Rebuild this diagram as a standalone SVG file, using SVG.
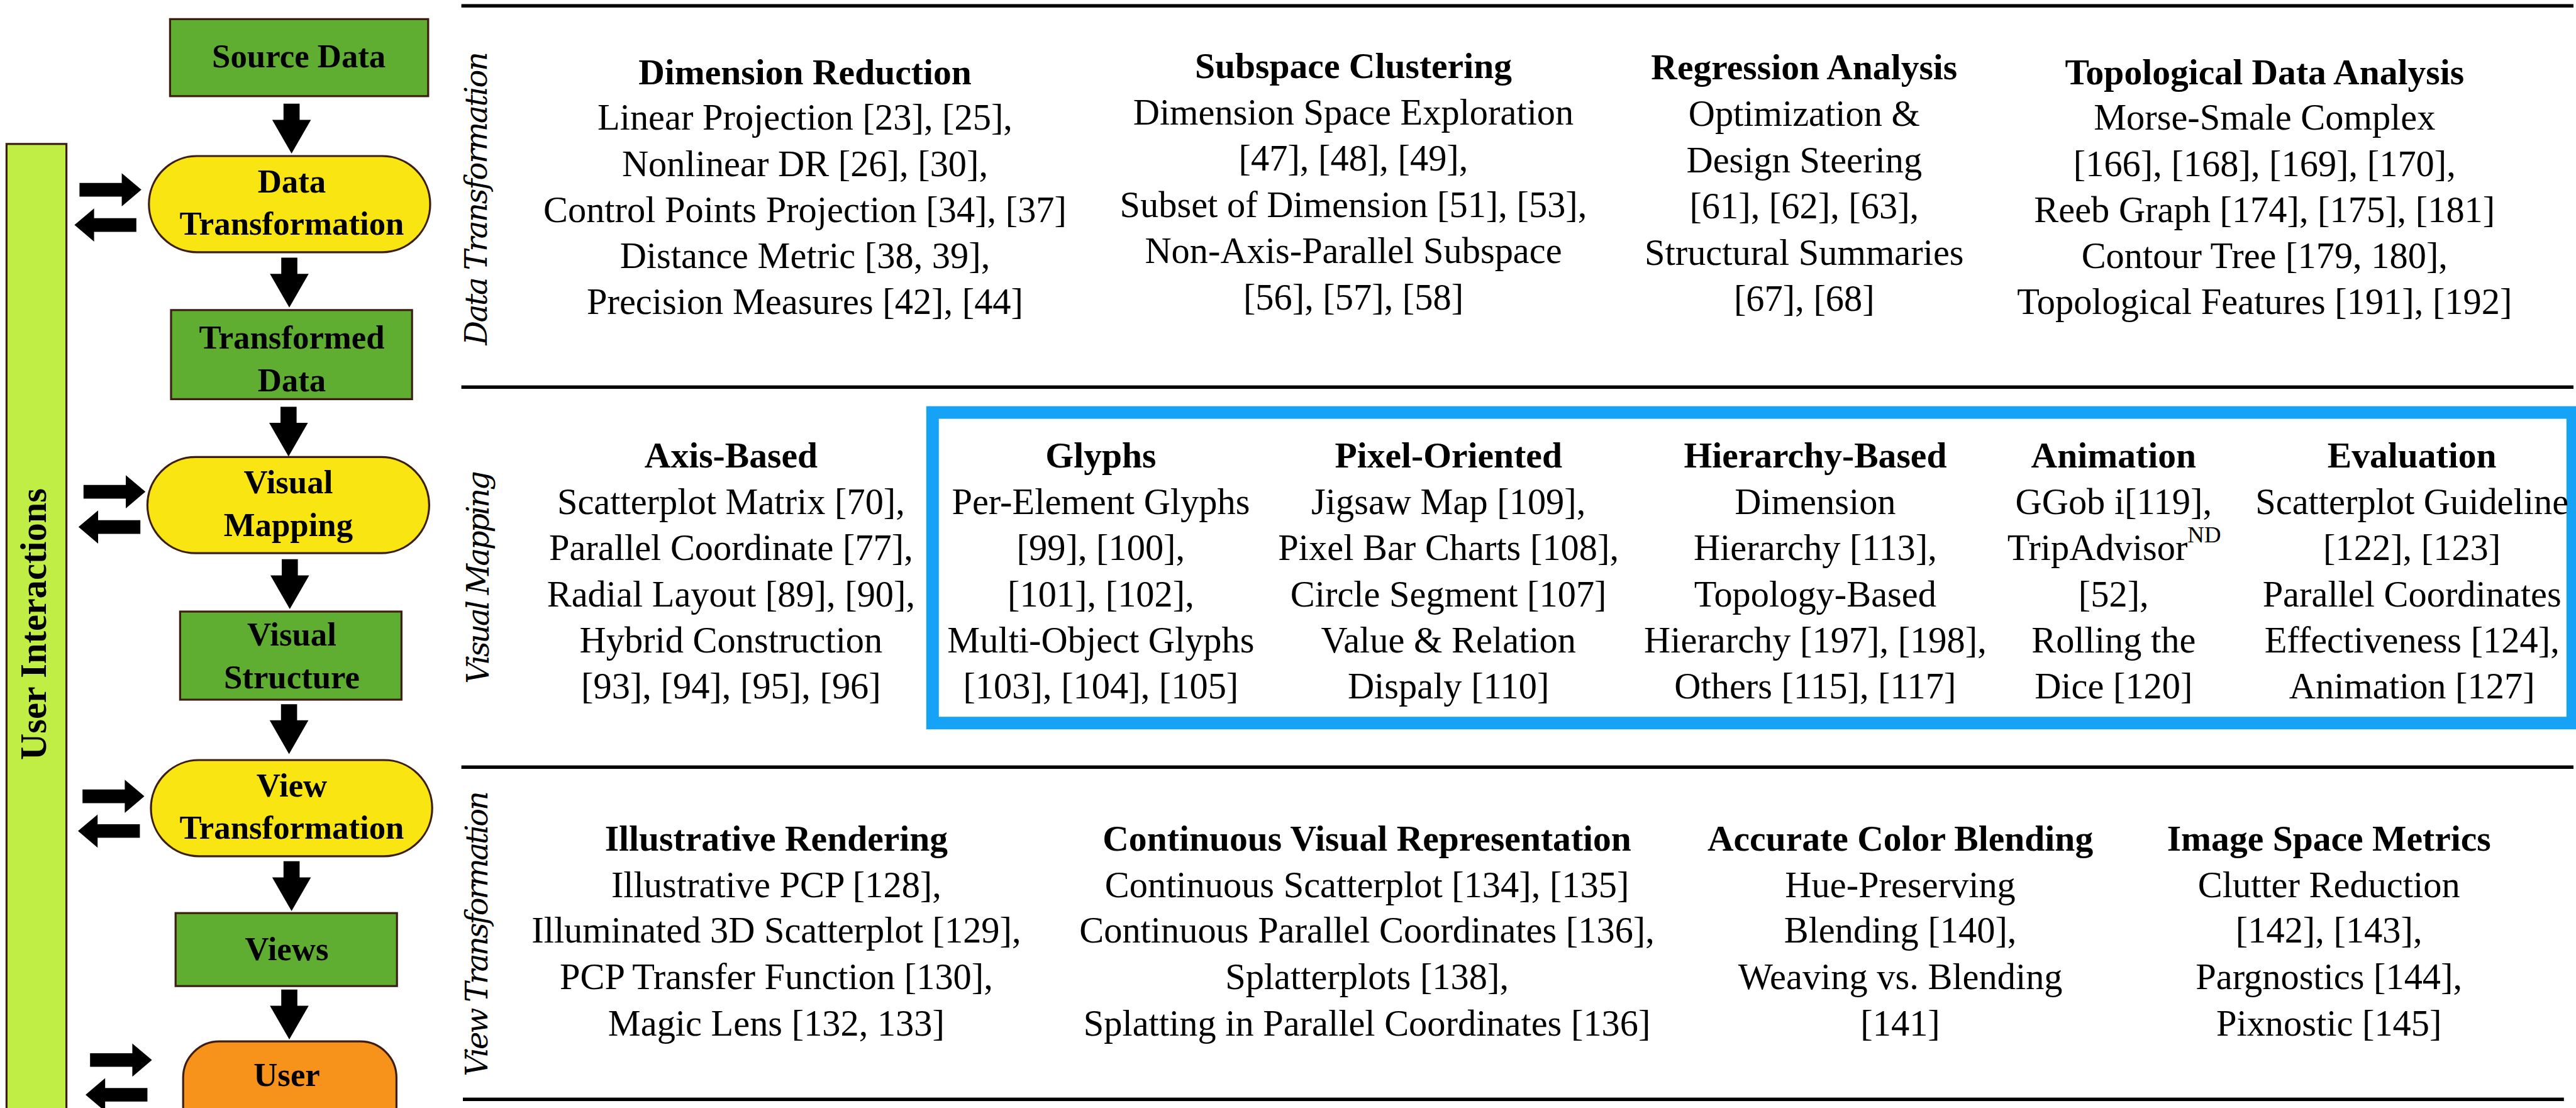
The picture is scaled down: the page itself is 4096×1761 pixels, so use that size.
<svg xmlns="http://www.w3.org/2000/svg" width="4096" height="1761" viewBox="0 0 4096 1761">
<style>
.t{font-family:"Liberation Serif","Times New Roman",serif;font-size:73px;text-anchor:middle;fill:#000}
.h{font-weight:bold;font-size:72px}
.n{font-family:"Liberation Serif","Times New Roman",serif;font-weight:bold;font-size:66px;text-anchor:middle;fill:#000}
.vl{font-family:"DejaVu Serif",serif;font-style:italic;font-size:60px;text-anchor:middle;fill:#000}
.box{fill:#5fae32;stroke:#3c1e12;stroke-width:4}
.pill{fill:#f9e512;stroke:#3c1e12;stroke-width:4}
.user{fill:#f7931a;stroke:#3c1e12;stroke-width:4}
.rule{stroke:#000;stroke-width:7}
.arr{fill:#000}
</style>
<defs>
<path id="down" d="M -16 0 H 16 V 32 H 38.5 L 0 99 L -38.5 32 H -16 Z"/>
<path id="right" d="M 0 0 L -39 -33 V -13.5 H -123 V 13.5 H -39 V 33 Z"/>
<path id="left" d="M 0 0 L 39 -33 V -13.5 H 123 V 13.5 H 39 V 33 Z"/>
</defs>
<rect width="4096" height="1761" fill="#fff"/>
<g transform="scale(0.8)">
<g id="user-interactions">
<rect x="13" y="286" width="119" height="1930" fill="#c0ee44" stroke="#3c1e12" stroke-width="4"/>
<text class="n" style="font-size:73px" x="91" y="1240" transform="rotate(-90 91 1240)">User Interactions</text>
</g>
<g id="source-data">
<rect class="box" x="338" y="38" width="513" height="153"/>
<text class="n" x="594" y="134">Source Data</text>
</g>
<g id="data-transformation">
<rect class="pill" x="296" y="310" width="559" height="191" rx="95.5"/>
<text class="n" x="580" y="382">Data</text>
<text class="n" x="580" y="466">Transformation</text>
</g>
<g id="transformed-data">
<rect class="box" x="340" y="616" width="479" height="177"/>
<text class="n" x="580" y="692">Transformed</text>
<text class="n" x="580" y="777">Data</text>
</g>
<g id="visual-mapping">
<rect class="pill" x="293" y="908" width="560" height="191" rx="95.5"/>
<text class="n" x="573" y="980">Visual</text>
<text class="n" x="573" y="1065">Mapping</text>
</g>
<g id="visual-structure">
<rect class="box" x="358" y="1215" width="440" height="175"/>
<text class="n" x="580" y="1283">Visual</text>
<text class="n" x="580" y="1367">Structure</text>
</g>
<g id="view-transformation">
<rect class="pill" x="300" y="1510" width="559" height="191" rx="95.5"/>
<text class="n" x="580" y="1582">View</text>
<text class="n" x="580" y="1666">Transformation</text>
</g>
<g id="views">
<rect class="box" x="349" y="1814" width="440" height="145"/>
<text class="n" x="570" y="1907">Views</text>
</g>
<g id="user">
<rect class="user" x="364" y="2069" width="424" height="200" rx="72"/>
<text class="n" x="570" y="2158">User</text>
</g>
<g id="connectors" class="arr">
<use href="#down" x="579.5" y="206"/>
<use href="#down" x="575" y="512"/>
<use href="#down" x="573.5" y="808"/>
<use href="#down" x="576" y="1111"/>
<use href="#down" x="574.5" y="1399"/>
<use href="#down" x="579.5" y="1711"/>
<use href="#down" x="575" y="1966"/>
<use href="#right" x="281" y="377"/>
<use href="#left" x="148" y="447"/>
<use href="#right" x="289" y="977"/>
<use href="#left" x="156" y="1047"/>
<use href="#right" x="287" y="1582"/>
<use href="#left" x="155" y="1651"/>
<use href="#right" x="302" y="2106"/>
<use href="#left" x="170" y="2175"/>
</g>
<g id="rules">
<line class="rule" x1="917" y1="11.5" x2="5115" y2="11.5"/>
<line class="rule" x1="917" y1="769" x2="5115" y2="769"/>
<line class="rule" x1="917" y1="1524" x2="5115" y2="1524"/>
<line class="rule" x1="920" y1="2184" x2="5096" y2="2184"/>
</g>
<g id="section-labels">
<text class="vl" x="968" y="394" textLength="583" lengthAdjust="spacing" transform="rotate(-90 968 394)">Data Transformation</text>
<text class="vl" x="971" y="1147" textLength="423" lengthAdjust="spacing" transform="rotate(-90 971 1147)">Visual Mapping</text>
<text class="vl" x="969" y="1855" textLength="567" lengthAdjust="spacing" transform="rotate(-90 969 1855)">View Transformation</text>
</g>
<g id="dimension-reduction" class="t">
<text class="h" x="1600" y="167">Dimension Reduction</text>
<text x="1600" y="258">Linear Projection [23], [25],</text>
<text x="1600" y="350">Nonlinear DR [26], [30],</text>
<text x="1600" y="441">Control Points Projection [34], [37]</text>
<text x="1600" y="533">Distance Metric [38, 39],</text>
<text x="1600" y="624">Precision Measures [42], [44]</text>
</g>
<g id="subspace-clustering" class="t">
<text class="h" x="2690" y="155">Subspace Clustering</text>
<text x="2690" y="247">Dimension Space Exploration</text>
<text x="2690" y="339">[47], [48], [49],</text>
<text x="2690" y="431">Subset of Dimension [51], [53],</text>
<text x="2690" y="523">Non-Axis-Parallel Subspace</text>
<text x="2690" y="615">[56], [57], [58]</text>
</g>
<g id="regression-analysis" class="t">
<text class="h" x="3586" y="158">Regression Analysis</text>
<text x="3586" y="250">Optimization &amp;</text>
<text x="3586" y="342">Design Steering</text>
<text x="3586" y="434">[61], [62], [63],</text>
<text x="3586" y="526">Structural Summaries</text>
<text x="3586" y="618">[67], [68]</text>
</g>
<g id="topological-data-analysis" class="t">
<text class="h" x="4501" y="167">Topological Data Analysis</text>
<text x="4501" y="258">Morse-Smale Complex</text>
<text x="4501" y="350">[166], [168], [169], [170],</text>
<text x="4501" y="441">Reeb Graph [174], [175], [181]</text>
<text x="4501" y="533">Contour Tree [179, 180],</text>
<text x="4501" y="624">Topological Features [191], [192]</text>
</g>
<rect id="highlight" x="1853.5" y="819.5" width="3260" height="617" fill="none" stroke="#16a3f6" stroke-width="25"/>
<g id="axis-based" class="t">
<text class="h" x="1453" y="929">Axis-Based</text>
<text x="1453" y="1021">Scatterplot Matrix [70],</text>
<text x="1453" y="1113">Parallel Coordinate [77],</text>
<text x="1453" y="1205">Radial Layout [89], [90],</text>
<text x="1453" y="1296">Hybrid Construction</text>
<text x="1453" y="1388">[93], [94], [95], [96]</text>
</g>
<g id="glyphs" class="t">
<text class="h" x="2188" y="929">Glyphs</text>
<text x="2188" y="1021">Per-Element Glyphs</text>
<text x="2188" y="1113">[99], [100],</text>
<text x="2188" y="1205">[101], [102],</text>
<text x="2188" y="1296">Multi-Object Glyphs</text>
<text x="2188" y="1388">[103], [104], [105]</text>
</g>
<g id="pixel-oriented" class="t">
<text class="h" x="2879" y="929">Pixel-Oriented</text>
<text x="2879" y="1021">Jigsaw Map [109],</text>
<text x="2879" y="1113">Pixel Bar Charts [108],</text>
<text x="2879" y="1205">Circle Segment [107]</text>
<text x="2879" y="1296">Value &amp; Relation</text>
<text x="2879" y="1388">Dispaly [110]</text>
</g>
<g id="hierarchy-based" class="t">
<text class="h" x="3608" y="929">Hierarchy-Based</text>
<text x="3608" y="1021">Dimension</text>
<text x="3608" y="1113">Hierarchy [113],</text>
<text x="3608" y="1205">Topology-Based</text>
<text x="3608" y="1296">Hierarchy [197], [198],</text>
<text x="3608" y="1388">Others [115], [117]</text>
</g>
<g id="animation" class="t">
<text class="h" x="4201" y="929">Animation</text>
<text x="4201" y="1021">GGob i[119],</text>
<text x="4202" y="1113">TripAdvisor<tspan font-size="46" dy="-36">ND</tspan></text>
<text x="4201" y="1205">[52],</text>
<text x="4201" y="1296">Rolling the</text>
<text x="4201" y="1388">Dice [120]</text>
</g>
<g id="evaluation" class="t">
<text class="h" x="4794" y="929">Evaluation</text>
<text x="4794" y="1021">Scatterplot Guideline</text>
<text x="4794" y="1113">[122], [123]</text>
<text x="4794" y="1205">Parallel Coordinates</text>
<text x="4794" y="1296">Effectiveness [124],</text>
<text x="4794" y="1388">Animation [127]</text>
</g>
<g id="illustrative-rendering" class="t">
<text class="h" x="1543" y="1690">Illustrative Rendering</text>
<text x="1543" y="1782">Illustrative PCP [128],</text>
<text x="1543" y="1873">Illuminated 3D Scatterplot [129],</text>
<text x="1543" y="1965">PCP Transfer Function [130],</text>
<text x="1543" y="2058">Magic Lens [132, 133]</text>
</g>
<g id="continuous-visual-representation" class="t">
<text class="h" x="2717" y="1690">Continuous Visual Representation</text>
<text x="2717" y="1782">Continuous Scatterplot [134], [135]</text>
<text x="2717" y="1873">Continuous Parallel Coordinates [136],</text>
<text x="2717" y="1965">Splatterplots [138],</text>
<text x="2717" y="2058">Splatting in Parallel Coordinates [136]</text>
</g>
<g id="accurate-color-blending" class="t">
<text class="h" x="3777" y="1690">Accurate Color Blending</text>
<text x="3777" y="1782">Hue-Preserving</text>
<text x="3777" y="1873">Blending [140],</text>
<text x="3777" y="1965">Weaving vs. Blending</text>
<text x="3777" y="2058">[141]</text>
</g>
<g id="image-space-metrics" class="t">
<text class="h" x="4629" y="1690">Image Space Metrics</text>
<text x="4629" y="1782">Clutter Reduction</text>
<text x="4629" y="1873">[142], [143],</text>
<text x="4629" y="1965">Pargnostics [144],</text>
<text x="4629" y="2058">Pixnostic [145]</text>
</g>
</g>
</svg>
